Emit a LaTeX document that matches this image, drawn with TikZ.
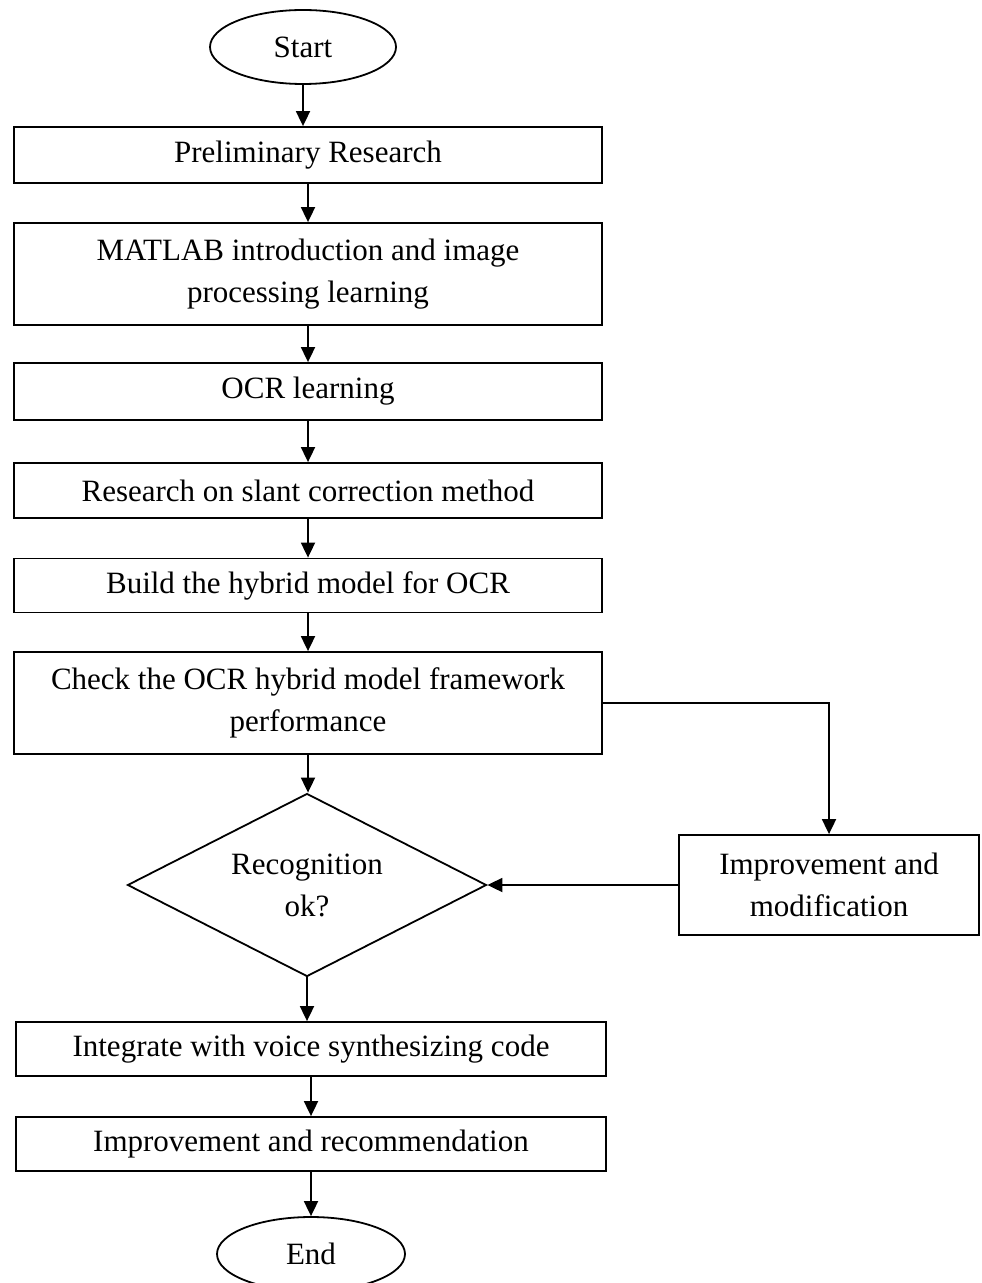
\documentclass[tikz,border=0pt]{standalone}
\usepackage{fontspec}
\setmainfont{Liberation Serif}
\usetikzlibrary{shapes.geometric,arrows.meta}
\begin{document}
\begin{tikzpicture}[x=0.5pt, y=-0.5pt, line width=0.9pt, line join=miter, >={Triangle[length=7.5pt,width=7pt]},
		font=\fontsize{15.5}{21}\selectfont,
		box/.style={draw, rectangle, inner sep=0pt, minimum width=294pt, align=center},
		term/.style={draw, ellipse, inner sep=0pt, minimum width=93pt, minimum height=37pt},
		test/.style={draw, diamond, aspect=2, inner sep=0pt, minimum width=179.5pt, minimum height=91.5pt, align=center},
		arr/.style={->}]
	\useasboundingbox (0,0) rectangle (981,1283);
	
	\node[term] (start) at (303,47) {Start};
	\node[box, minimum height=28pt] (prelim) at (308,155) {Preliminary Research};
	\node[box, minimum height=51pt] (matlab) at (308,274) {MATLAB introduction and image\\processing learning};
	\node[box, minimum height=28.5pt] (ocr) at (308,391.5) {OCR learning};
	\node[box, minimum height=27.5pt] (slant) at (308,490.5) {Research on slant correction method};
	\node[box, minimum height=27pt] (build) at (308,585.5) {Build the hybrid model for OCR};
	\node[box, minimum height=51pt] (check) at (308,703) {Check the OCR hybrid model framework\\performance};
	\node[test] (recog) at (307,885) {Recognition\\ok?};
	\node[box, minimum width=150pt, minimum height=50pt] (modif) at (829,885) {Improvement and\\modification};
	\node[box, minimum width=295pt, minimum height=27pt] (voice) at (311,1049) {Integrate with voice synthesizing code};
	\node[box, minimum width=295pt, minimum height=27pt] (recom) at (311,1144) {Improvement and recommendation};
	\node[term, minimum width=94pt] (stop) at (311,1254) {End};
	
	% main column
	\foreach \a/\b in {start/prelim, prelim/matlab, matlab/ocr, ocr/slant, slant/build, build/check, check/recog, recog/voice, voice/recom, recom/stop}
		\draw[arr] (\a) -- (\a |- \b.north);
	
	% loop back
	\draw[arr] (check.east) -| (modif.north);
	\draw[arr] (modif.west) -- (recog.east);
	
\end{tikzpicture}
\end{document}
